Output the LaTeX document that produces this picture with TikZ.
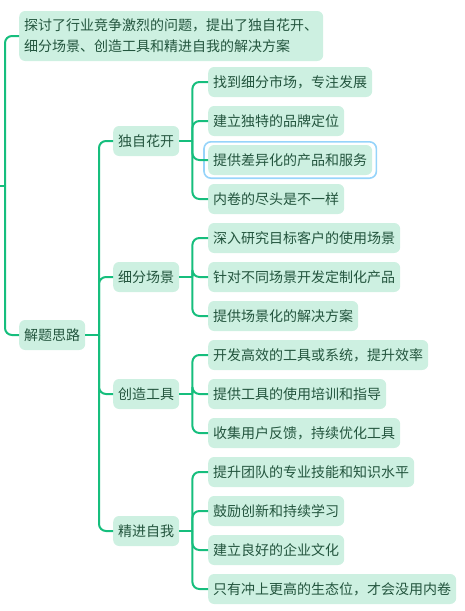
\documentclass[tikz,border=0pt]{standalone}
\usepackage{fontspec}
\setmainfont{Noto Sans CJK SC}
\definecolor{boxfill}{RGB}{205,240,225}
\definecolor{txt}{RGB}{35,85,62}
\definecolor{linec}{RGB}{22,190,125}
\definecolor{selc}{RGB}{150,212,250}
\begin{document}
\begin{tikzpicture}[x=1pt,y=-1pt,
  box/.style={fill=boxfill, rounded corners=6pt, inner xsep=5pt, inner ysep=0pt,
    minimum height=30pt, anchor=west, text=txt, font=\fontsize{14}{16}\selectfont},
  conn/.style={draw=linec, line width=2pt, rounded corners=7pt},
  sel/.style={draw=selc, line width=1.6pt, rounded corners=7pt}]
\useasboundingbox (0,0) rectangle (465,611);
% root level
\node[box, minimum height=50pt, align=left, font=\fontsize{14}{21}\selectfont] (top) at (19,36)
  {探讨了行业竞争激烈的问题，提出了独自花开、\\细分场景、创造工具和精进自我的解决方案};
\node[box] (jt) at (19,335) {解题思路};
% level 2
\node[box] (a) at (113,141) {独自花开};
\node[box] (b) at (113,277) {细分场景};
\node[box] (c) at (113,394) {创造工具};
\node[box] (d) at (113,531) {精进自我};
% leaves
\node[box] (a1) at (208,82) {找到细分市场，专注发展};
\node[box] (a2) at (208,121) {建立独特的品牌定位};
\node[box] (a3) at (208,160) {提供差异化的产品和服务};
\node[box] (a4) at (208,199) {内卷的尽头是不一样};
\node[box] (b1) at (208,238) {深入研究目标客户的使用场景};
\node[box] (b2) at (208,277) {针对不同场景开发定制化产品};
\node[box] (b3) at (208,316) {提供场景化的解决方案};
\node[box] (c1) at (208,355) {开发高效的工具或系统，提升效率};
\node[box] (c2) at (208,394) {提供工具的使用培训和指导};
\node[box] (c3) at (208,433) {收集用户反馈，持续优化工具};
\node[box] (d1) at (208,472) {提升团队的专业技能和知识水平};
\node[box] (d2) at (208,511) {鼓励创新和持续学习};
\node[box] (d3) at (208,550) {建立良好的企业文化};
\node[box] (d4) at (208,589) {只有冲上更高的生态位，才会没用内卷};
% selection outline
\draw[sel] ([shift={(-4pt,3pt)}]a3.north west) rectangle ([shift={(4pt,-3pt)}]a3.south east);
% connectors
\coordinate (rin) at (0,186);
\coordinate (rj) at (5,186);
\draw[conn] (rin) -- (rj);
\draw[conn] (rj) |- (top.west);
\draw[conn] (rj) |- (jt.west);
\coordinate (jv) at (99,335);
\draw[conn] (jt.east) -- (jv);
\foreach \n in {a,b,c,d} \draw[conn] (jv) |- (\n.west);
\foreach \p/\kids in {a/{a1,a2,a3,a4}, b/{b1,b2,b3}, c/{c1,c2,c3}, d/{d1,d2,d3,d4}}{
  \coordinate (\p v) at ([xshift=13pt]\p.east);
  \draw[conn] (\p.east) -- (\p v);
  \foreach \k in \kids \draw[conn] (\p v) |- (\k.west);
}
\end{tikzpicture}
\end{document}
